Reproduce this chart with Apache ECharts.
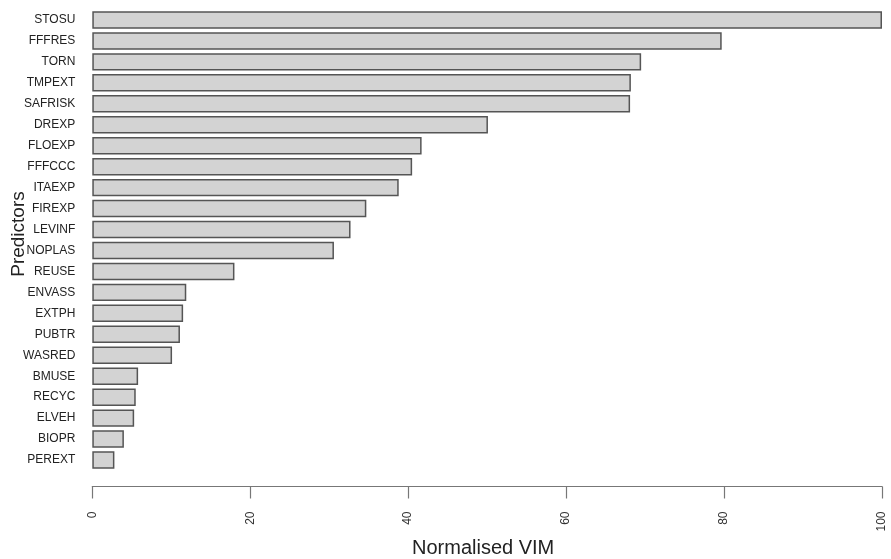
<!DOCTYPE html>
<html>
<head>
<meta charset="utf-8">
<script src="https://cdn.jsdelivr.net/npm/echarts@6/dist/echarts.min.js"></script>
<style>html,body{margin:0;padding:0;background:#fff}#c{width:891px;height:559px}</style>
</head>
<body>
<div id="c"></div>
<script>
const predictors = ["STOSU","FFFRES","TORN","TMPEXT","SAFRISK","DREXP","FLOEXP","FFFCCC","ITAEXP","FIREXP","LEVINF","NOPLAS","REUSE","ENVASS","EXTPH","PUBTR","WASRED","BMUSE","RECYC","ELVEH","BIOPR","PEREXT"];
const vim = [100,79.7,69.5,68.2,68.1,50.1,41.7,40.5,38.8,34.7,32.7,30.6,18.0,11.9,11.5,11.1,10.1,5.8,5.5,5.3,4.0,2.8];
const xTicks = [0,20,40,60,80,100];

const chart = echarts.init(document.getElementById('c'), null, {renderer:'canvas'});
chart.setOption({
  animation:false,
  backgroundColor:'#ffffff',
  grid:{left:92.3, right:9, top:9.5, bottom:88.5, containLabel:false, outerBoundsMode:'none'},
  xAxis:{
    type:'value', min:0, max:100, interval:20,
    position:'bottom', offset:16,
    name:'Normalised VIM', nameLocation:'middle', nameGap:52, nameMoveOverlap:false,
    nameTextStyle:{fontFamily:'Liberation Sans, Arial, sans-serif', fontSize:20, color:'#222', padding:[0,8,0,0]},
    axisLine:{show:true, lineStyle:{color:'#777', width:1.2}},
    axisTick:{show:true, length:12, lineStyle:{color:'#777', width:1.2}},
    splitLine:{show:false},
    axisLabel:{rotate:90, margin:25, fontFamily:'Liberation Sans, Arial, sans-serif', fontSize:12, color:'#333',
      formatter:function(v){return xTicks.indexOf(v)>=0 ? String(v) : '';}}
  },
  yAxis:{
    type:'category', data:predictors, inverse:true,
    name:'Predictors', nameLocation:'middle', nameGap:64, nameRotate:90, nameMoveOverlap:false,
    nameTextStyle:{fontFamily:'Liberation Sans, Arial, sans-serif', fontSize:19, color:'#222', padding:[0,0,0,12]},
    axisLine:{show:false}, axisTick:{show:false}, splitLine:{show:false},
    axisLabel:{margin:17, fontFamily:'Liberation Sans, Arial, sans-serif', fontSize:12, color:'#222'}
  },
  series:[{
    type:'bar', data:vim, barCategoryGap:'16.7%',
    itemStyle:{color:'#d3d3d3', borderColor:'#555', borderWidth:1.5}
  }]
});
</script>
</body>
</html>
